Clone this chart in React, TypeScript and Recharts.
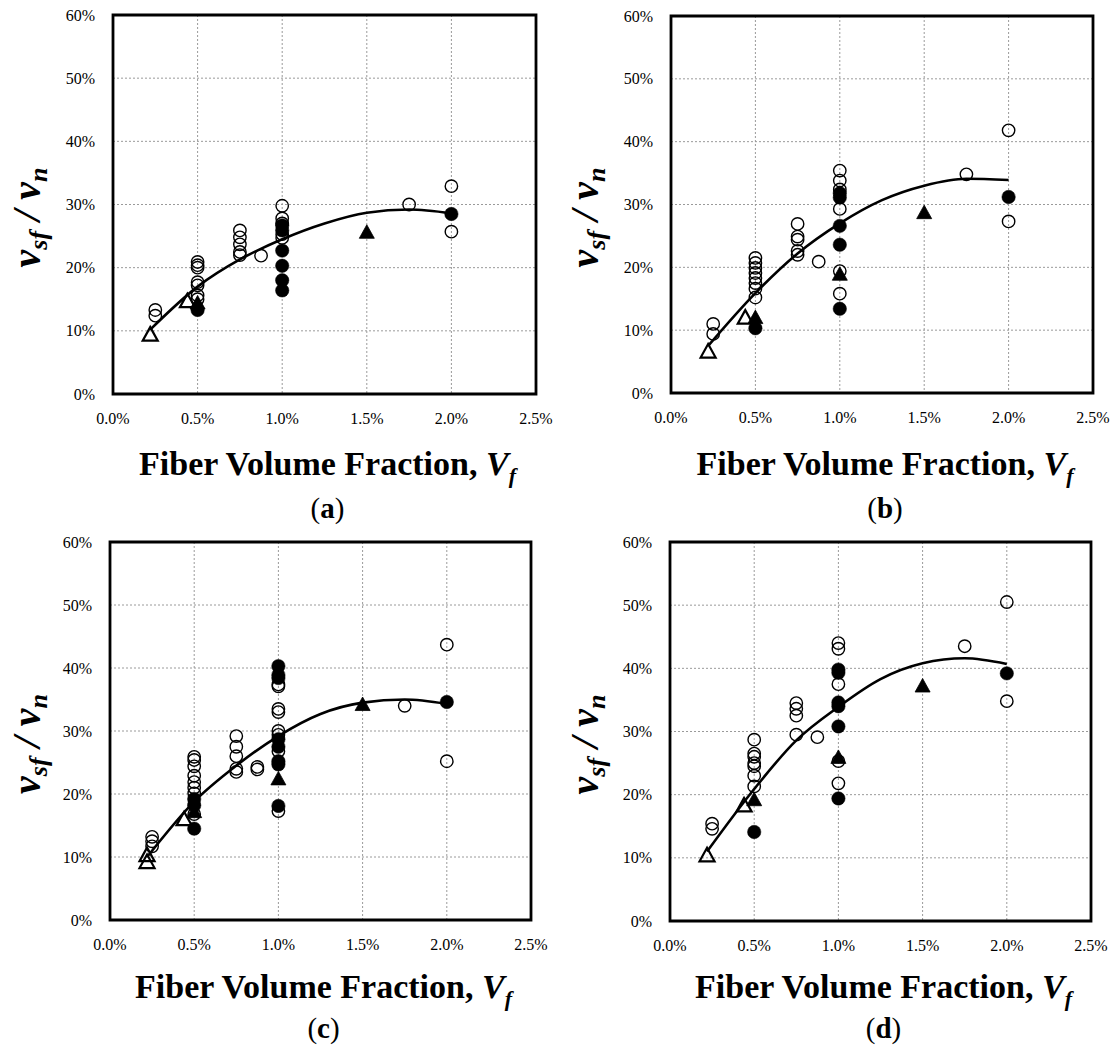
import React from 'react';
import { ComposedChart, Scatter, Line, XAxis, YAxis, CartesianGrid, ReferenceArea } from 'recharts';

type P = [number, number];

const X_TICKS = [0, 0.5, 1.0, 1.5, 2.0, 2.5];
const Y_TICKS = [0, 10, 20, 30, 40, 50, 60];
const PANEL_LABELS = ['a', 'b', 'c', 'd'];

// ---- Panel (a) ----
const A_CURVE: P[] = [[0.22, 10.2], [0.5, 17.0], [0.75, 21.3], [1.0, 24.5], [1.25, 27.0], [1.5, 28.7], [1.75, 29.2], [2.0, 28.6]];
const A_OPEN_CIRCLES: P[] = [[0.25, 13.3], [0.25, 12.4], [0.5, 20.9], [0.5, 20.4], [0.5, 20.0], [0.5, 17.7], [0.5, 17.2], [0.5, 15.6], [0.5, 15.0], [0.75, 25.9], [0.75, 24.8], [0.75, 23.7], [0.75, 22.5], [0.75, 22.0], [0.875, 21.9], [1.0, 29.8], [1.0, 27.8], [1.0, 27.0], [1.0, 25.3], [1.0, 24.7], [1.75, 30.0], [2.0, 32.9], [2.0, 25.7]];
const A_FILLED_CIRCLES: P[] = [[0.5, 13.3], [1.0, 26.7], [1.0, 25.9], [1.0, 22.7], [1.0, 20.3], [1.0, 18.0], [1.0, 16.4], [2.0, 28.5]];
const A_OPEN_TRIANGLES: P[] = [[0.22, 9.4], [0.44, 14.7]];
const A_FILLED_TRIANGLES: P[] = [[0.5, 14.4], [1.5, 25.6]];

// ---- Panel (b) ----
const B_CURVE: P[] = [[0.22, 7.5], [0.5, 15.9], [0.75, 22.2], [1.0, 27.0], [1.25, 30.7], [1.5, 33.0], [1.75, 34.1], [2.0, 33.9]];
const B_OPEN_CIRCLES: P[] = [[0.25, 11.0], [0.25, 9.4], [0.5, 21.5], [0.5, 20.7], [0.5, 19.9], [0.5, 19.1], [0.5, 18.3], [0.5, 17.5], [0.5, 16.6], [0.5, 15.2], [0.75, 26.9], [0.75, 24.9], [0.75, 24.4], [0.75, 22.6], [0.75, 22.0], [0.875, 20.9], [1.0, 35.4], [1.0, 33.8], [1.0, 32.4], [1.0, 29.3], [1.0, 19.4], [1.0, 15.8], [1.75, 34.8], [2.0, 41.8], [2.0, 27.3]];
const B_FILLED_CIRCLES: P[] = [[0.5, 10.3], [1.0, 31.8], [1.0, 31.1], [1.0, 26.6], [1.0, 23.6], [1.0, 13.4], [2.0, 31.2]];
const B_OPEN_TRIANGLES: P[] = [[0.22, 6.6], [0.44, 12.0]];
const B_FILLED_TRIANGLES: P[] = [[0.5, 12.0], [1.0, 18.9], [1.5, 28.7]];

// ---- Panel (c) ----
const C_CURVE: P[] = [[0.22, 10.0], [0.5, 18.8], [0.75, 24.5], [1.0, 29.2], [1.25, 32.7], [1.5, 34.5], [1.75, 35.0], [2.0, 34.3]];
const C_OPEN_CIRCLES: P[] = [[0.25, 13.2], [0.25, 12.5], [0.25, 11.7], [0.5, 25.9], [0.5, 25.4], [0.5, 24.4], [0.5, 22.9], [0.5, 21.9], [0.5, 21.0], [0.5, 20.1], [0.5, 16.8], [0.75, 29.2], [0.75, 27.5], [0.75, 26.0], [0.75, 24.0], [0.75, 23.5], [0.875, 24.3], [0.875, 23.9], [1.0, 37.4], [1.0, 37.1], [1.0, 33.5], [1.0, 33.0], [1.0, 30.0], [1.0, 29.4], [1.0, 26.8], [1.0, 17.3], [1.75, 34.0], [2.0, 43.7], [2.0, 25.2]];
const C_FILLED_CIRCLES: P[] = [[0.5, 19.2], [0.5, 18.2], [0.5, 14.5], [1.0, 40.3], [1.0, 38.9], [1.0, 38.4], [1.0, 28.7], [1.0, 27.5], [1.0, 25.2], [1.0, 24.7], [1.0, 18.1], [2.0, 34.6]];
const C_OPEN_TRIANGLES: P[] = [[0.22, 10.3], [0.22, 9.2], [0.44, 16.0]];
const C_FILLED_TRIANGLES: P[] = [[0.5, 17.2], [1.0, 22.4], [1.5, 34.2]];

// ---- Panel (d) ----
const D_CURVE: P[] = [[0.22, 11.0], [0.5, 20.9], [0.75, 28.6], [1.0, 33.9], [1.25, 38.3], [1.5, 40.8], [1.75, 41.6], [2.0, 40.7]];
const D_OPEN_CIRCLES: P[] = [[0.25, 15.4], [0.25, 14.6], [0.5, 28.7], [0.5, 26.5], [0.5, 26.0], [0.5, 25.0], [0.5, 24.5], [0.5, 23.0], [0.5, 21.3], [0.75, 34.5], [0.75, 33.6], [0.75, 32.5], [0.75, 29.5], [0.875, 29.1], [1.0, 44.0], [1.0, 43.1], [1.0, 37.5], [1.0, 25.3], [1.0, 21.8], [1.75, 43.5], [2.0, 50.5], [2.0, 34.8]];
const D_FILLED_CIRCLES: P[] = [[0.5, 14.1], [1.0, 39.8], [1.0, 39.3], [1.0, 34.6], [1.0, 34.0], [1.0, 30.8], [1.0, 19.4], [2.0, 39.2]];
const D_OPEN_TRIANGLES: P[] = [[0.22, 10.4], [0.44, 18.3]];
const D_FILLED_TRIANGLES: P[] = [[0.5, 19.2], [1.0, 25.9], [1.5, 37.2]];

const FONT = '"Liberation Serif", "Times New Roman", serif';
const Y_AXIS_W = 60;
const X_AXIS_H = 40;

// plot box inside each 558x525 cell: left, top, width, height; title/label offsets below the plot
const PANELS = [
  { label: PANEL_LABELS[0], left: 0, top: 0, plot: { l: 113, t: 15, w: 423, h: 379 }, titleDy: 81, labelDy: 124, curve: A_CURVE, oc: A_OPEN_CIRCLES, fc: A_FILLED_CIRCLES, ot: A_OPEN_TRIANGLES, ft: A_FILLED_TRIANGLES },
  { label: PANEL_LABELS[1], left: 558, top: 0, plot: { l: 113, t: 16, w: 422, h: 377 }, titleDy: 82, labelDy: 125, curve: B_CURVE, oc: B_OPEN_CIRCLES, fc: B_FILLED_CIRCLES, ot: B_OPEN_TRIANGLES, ft: B_FILLED_TRIANGLES },
  { label: PANEL_LABELS[2], left: 0, top: 525, plot: { l: 110, t: 17, w: 421, h: 378 }, titleDy: 78, labelDy: 118, curve: C_CURVE, oc: C_OPEN_CIRCLES, fc: C_FILLED_CIRCLES, ot: C_OPEN_TRIANGLES, ft: C_FILLED_TRIANGLES },
  { label: PANEL_LABELS[3], left: 558, top: 525, plot: { l: 112, t: 17, w: 421, h: 379 }, titleDy: 77, labelDy: 117, curve: D_CURVE, oc: D_OPEN_CIRCLES, fc: D_FILLED_CIRCLES, ot: D_OPEN_TRIANGLES, ft: D_FILLED_TRIANGLES },
];

const toXY = (arr: P[]) => arr.map(([x, y]) => ({ x, y }));

const OpenCircle = (p: any) => <circle cx={p.cx} cy={p.cy} r={6.2} fill="none" stroke="#000" strokeWidth={1.4} />;
const FilledCircle = (p: any) => <circle cx={p.cx} cy={p.cy} r={6.7} fill="#000" stroke="#000" strokeWidth={0.5} />;
const triPts = (cx: number, cy: number) => `${cx},${cy - 7.5} ${cx - 7.5},${cy + 6} ${cx + 7.5},${cy + 6}`;
const OpenTriangle = (p: any) => <polygon points={triPts(p.cx, p.cy)} fill="none" stroke="#000" strokeWidth={2.2} strokeLinejoin="miter" />;
const FilledTriangle = (p: any) => <polygon points={triPts(p.cx, p.cy)} fill="#000" stroke="#000" strokeWidth={0.8} />;

const XTick = (props: any) => (
  <text x={props.x} y={props.y} dy="0.71em" textAnchor="middle" fontFamily={FONT} fontSize={16} fill="#000">
    {Number(props.payload.value).toFixed(1) + '%'}
  </text>
);
const YTick = (props: any) => (
  <text x={props.x} y={props.y} dy="0.35em" textAnchor="end" fontFamily={FONT} fontSize={16} fill="#000">
    {props.payload.value + '%'}
  </text>
);

function Panel({ cfg }: { cfg: any }) {
  const margin = {
    top: cfg.plot.t,
    left: cfg.plot.l - Y_AXIS_W,
    right: 558 - cfg.plot.l - cfg.plot.w,
    bottom: 525 - cfg.plot.t - cfg.plot.h - X_AXIS_H,
  };
  return (
    <div style={{ position: 'absolute', left: cfg.left, top: cfg.top }}>
      <ComposedChart width={558} height={525} margin={margin}>
        <CartesianGrid stroke="#9a9a9a" strokeDasharray="2 2" strokeWidth={1} />
        <XAxis
          type="number"
          dataKey="x"
          domain={[0, 2.5]}
          ticks={X_TICKS}
          axisLine={false}
          tickLine={false}
          tickSize={0}
          tickMargin={19}
          height={X_AXIS_H}
          tick={XTick}
          interval={0}
          allowDataOverflow
        />
        <YAxis
          type="number"
          dataKey="y"
          domain={[0, 60]}
          ticks={Y_TICKS}
          axisLine={false}
          tickLine={false}
          tickSize={0}
          tickMargin={18}
          width={Y_AXIS_W}
          tick={YTick}
          interval={0}
          allowDataOverflow
        />
        <ReferenceArea x1={0} x2={2.5} y1={0} y2={60} fill="none" fillOpacity={0} stroke="#000" strokeWidth={2.8} ifOverflow="visible" />
        <Line data={toXY(cfg.curve)} dataKey="y" type="monotone" stroke="#000" strokeWidth={2.6} dot={false} activeDot={false} isAnimationActive={false} />
        <Scatter data={toXY(cfg.oc)} shape={OpenCircle} isAnimationActive={false} />
        <Scatter data={toXY(cfg.fc)} shape={FilledCircle} isAnimationActive={false} />
        <Scatter data={toXY(cfg.ot)} shape={OpenTriangle} isAnimationActive={false} />
        <Scatter data={toXY(cfg.ft)} shape={FilledTriangle} isAnimationActive={false} />
      </ComposedChart>
    </div>
  );
}

function Titles() {
  return (
    <svg width={1116} height={1050} style={{ position: 'absolute', left: 0, top: 0, pointerEvents: 'none' }}>
      {PANELS.map((p, i) => {
        const plotL = p.left + p.plot.l;
        const plotR = plotL + p.plot.w;
        const plotT = p.top + p.plot.t;
        const plotB = plotT + p.plot.h;
        const cx = (plotL + plotR) / 2;
        const cy = (plotT + plotB) / 2 + 13;
        const yx = p.left + 40;
        return (
          <g key={i} fontFamily={FONT} fill="#000">
            <text x={cx + 3} y={plotB + p.titleDy} textAnchor="middle" fontWeight="bold" fontSize={34}>
              Fiber Volume Fraction, <tspan fontStyle="italic">V</tspan>
              <tspan fontStyle="italic" fontSize={22} dy={8}>f</tspan>
            </text>
            <text x={cx + 3} y={plotB + p.labelDy} textAnchor="middle" fontSize={29}>
              (<tspan fontWeight="bold">{p.label}</tspan>)
            </text>
            <text x={yx} y={cy} transform={`rotate(-90 ${yx} ${cy})`} textAnchor="middle" fontWeight="bold" fontStyle="italic" fontSize={40}>
              v<tspan fontSize={26} dy={7}>sf</tspan>
              <tspan fontSize={40} dy={-7}> / v</tspan>
              <tspan fontSize={26} dy={7}>n</tspan>
            </text>
          </g>
        );
      })}
    </svg>
  );
}

export default function App() {
  return (
    <div style={{ position: 'absolute', left: 0, top: 0, width: 1116, height: 1050, background: '#fff' }}>
      {PANELS.map((p, i) => (
        <Panel key={i} cfg={p} />
      ))}
      <Titles />
    </div>
  );
}
